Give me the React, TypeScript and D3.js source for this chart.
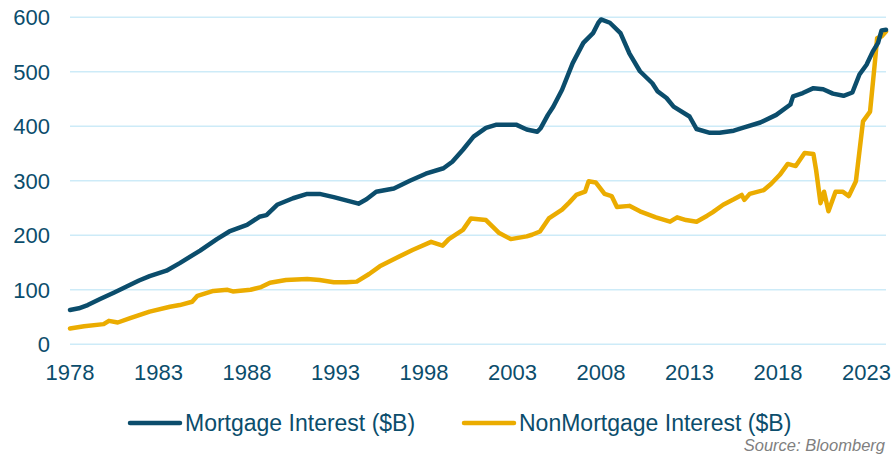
import React from "react";
import * as d3 from "d3";

const mortgageDates = [1978.0, 1978.5, 1979.0, 1979.7, 1980.5, 1981.2, 1981.9, 1982.5, 1983.45, 1984.2, 1985.35, 1986.3, 1987.0, 1988.0, 1988.7, 1989.1, 1989.7, 1990.6, 1991.4, 1992.1, 1992.9, 1993.6, 1994.3, 1994.75, 1995.3, 1996.3, 1997.2, 1998.1, 1999.1, 1999.6, 2000.2, 2000.8, 2001.5, 2002.1, 2003.2, 2003.8, 2004.4, 2004.6, 2005.0, 2005.3, 2005.8, 2006.4, 2007.0, 2007.55, 2007.85, 2008.0, 2008.5, 2009.1, 2009.6, 2010.2, 2010.9, 2011.2, 2011.7, 2012.1, 2013.0, 2013.4, 2014.15, 2014.7, 2015.5, 2016.0, 2017.0, 2017.9, 2018.7, 2018.85, 2019.4, 2020.0, 2020.55, 2021.1, 2021.7, 2022.2, 2022.6, 2023.0, 2023.35, 2023.65, 2023.85, 2024.1];
const mortgageValues = [63, 66, 72, 83, 95, 106, 117, 125, 135, 149, 172, 193, 207, 219, 234, 237, 256, 268, 276, 276, 270, 264, 258, 266, 280, 286, 300, 313, 323, 335, 357, 381, 397, 403, 403, 394, 390, 397, 421, 436, 467, 516, 553, 571, 590, 596, 590, 571, 534, 501, 479, 464, 452, 436, 418, 395, 388, 388, 392, 397, 407, 421, 440, 455, 461, 470, 468, 460, 456, 462, 495, 513, 537, 553, 576, 577];

const nonMortgageDates = [1978.0, 1978.8, 1979.9, 1980.2, 1980.7, 1981.4, 1982.5, 1983.65, 1984.2, 1984.9, 1985.2, 1986.1, 1986.9, 1987.2, 1988.2, 1988.8, 1989.3, 1990.2, 1991.4, 1992.1, 1992.9, 1993.6, 1994.2, 1994.9, 1995.5, 1996.4, 1997.35, 1998.4, 1999.05, 1999.4, 2000.2, 2000.65, 2001.5, 2002.25, 2002.9, 2003.8, 2004.1, 2004.55, 2005.05, 2005.8, 2006.2, 2006.6, 2007.1, 2007.3, 2007.7, 2008.2, 2008.6, 2008.9, 2009.6, 2010.2, 2011.1, 2011.9, 2012.3, 2012.8, 2013.4, 2014.0, 2014.3, 2014.9, 2015.5, 2015.95, 2016.1, 2016.4, 2017.2, 2017.6, 2018.1, 2018.55, 2019.0, 2019.5, 2020.0, 2020.15, 2020.4, 2020.6, 2020.85, 2021.25, 2021.65, 2022.0, 2022.4, 2022.8, 2023.2, 2023.45, 2023.6, 2023.85, 2024.1];
const nonMortgageValues = [29, 33, 37, 43, 40, 48, 60, 69, 72, 78, 89, 98, 100, 97, 100, 105, 113, 118, 120, 118, 114, 114, 115, 129, 143, 158, 173, 188, 181, 193, 210, 231, 228, 204, 193, 198, 201, 207, 231, 247, 260, 274, 280, 299, 297, 276, 272, 252, 254, 244, 233, 225, 233, 228, 225, 236, 242, 256, 266, 274, 265, 276, 283, 294, 311, 331, 327, 351, 349, 320, 259, 280, 244, 280, 280, 272, 299, 409, 427, 510, 562, 565, 574];

const xTicks = [1978, 1983, 1988, 1993, 1998, 2003, 2008, 2013, 2018, 2023];
const yTicks = [0, 100, 200, 300, 400, 500, 600];

const seriesNames = ["Mortgage Interest ($B)", "NonMortgage Interest ($B)"];
const sourceText = "Source: Bloomberg";

const W = 893;
const H = 456;
const TEAL = "#0B4D6C";
const GOLD = "#EBAC00";
const FONT = "'Liberation Sans', Arial, sans-serif";

export default function App() {
  const x = d3.scaleLinear().domain([1978, 2024.1]).range([70, 886]);
  const y = d3.scaleLinear().domain([0, 600]).range([344.3, 17.3]);

  const mData = mortgageDates.map((d, i) => [d, mortgageValues[i]] as [number, number]);
  const nData = nonMortgageDates.map((d, i) => [d, nonMortgageValues[i]] as [number, number]);

  const line = d3
    .line<[number, number]>()
    .x((d) => x(d[0]))
    .y((d) => y(d[1]))
    .curve(d3.curveLinear);

  return (
    <svg
      width={W}
      height={H}
      style={{ position: "absolute", left: 0, top: 0, background: "#fff" }}
      fontFamily={FONT}
    >
      {yTicks.map((t) => (
        <line key={"g" + t} x1={70} x2={886} y1={y(t)} y2={y(t)} stroke="#CDEBF8" strokeWidth={1.5} />
      ))}
      {yTicks.map((t) => (
        <text key={"y" + t} x={50} y={y(t)} dy="0.36em" textAnchor="end" fontSize={22} fill={TEAL}>
          {t}
        </text>
      ))}
      {xTicks.map((t) => (
        <text key={"x" + t} x={x(t)} y={380} textAnchor="middle" fontSize={22} fill={TEAL}>
          {t}
        </text>
      ))}
      <path d={line(nData) || ""} fill="none" stroke={GOLD} strokeWidth={4.5} strokeLinejoin="round" strokeLinecap="round" />
      <path d={line(mData) || ""} fill="none" stroke={TEAL} strokeWidth={4.5} strokeLinejoin="round" strokeLinecap="round" />

      <line x1={130} x2={180} y1={423} y2={423} stroke={TEAL} strokeWidth={4.5} strokeLinecap="round" />
      <text x={185} y={431} fontSize={23} fill={TEAL}>{seriesNames[0]}</text>
      <line x1={464} x2={514} y1={423} y2={423} stroke={GOLD} strokeWidth={4.5} strokeLinecap="round" />
      <text x={519} y={431} fontSize={23} fill={TEAL}>{seriesNames[1]}</text>

      <text x={885} y={451} textAnchor="end" fontSize={16.5} fontStyle="italic" fill="#808080">
        {sourceText}
      </text>
    </svg>
  );
}
